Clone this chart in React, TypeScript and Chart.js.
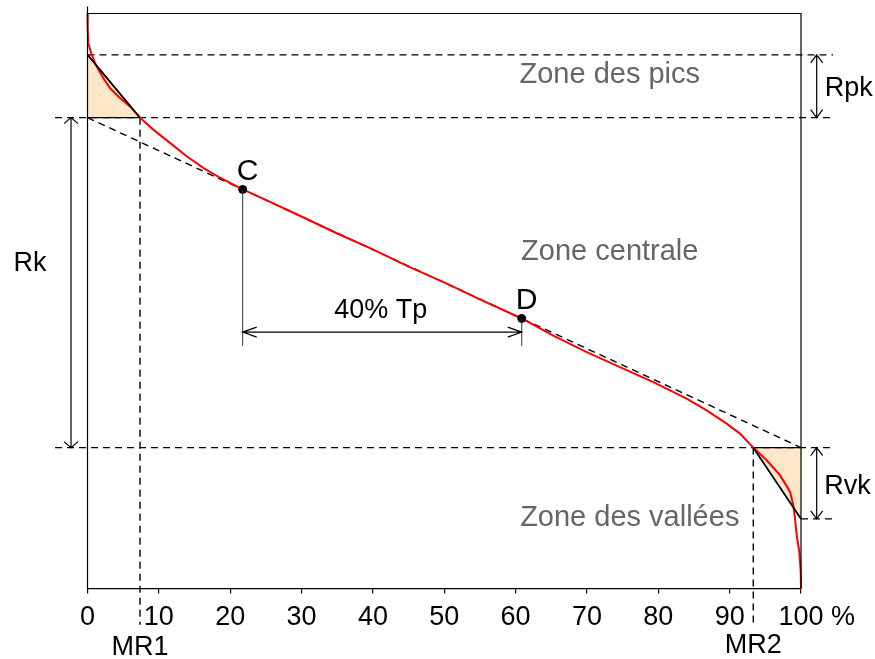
import React, { useEffect, useRef } from 'react';
import { Chart, registerables } from 'chart.js';

Chart.register(...registerables);

// ---- data ----
const xTickValues = [0, 10, 20, 30, 40, 50, 60, 70, 80, 90, 100];
const curveX = [0, 0.03, 0.11, 0.59, 1.29, 2.21, 3.15, 4.32, 5.96, 7.36, 9.22, 11.56, 13.9, 16.23, 18.57, 21.75, 25, 30, 35, 40, 45, 50, 55, 60.86, 65.28, 69.97, 74.63, 79.3, 83.98, 86.78, 89.59, 91.45, 93.31, 95.19, 97.06, 98.46, 98.92, 99.16, 99.4, 99.76, 99.96, 100];
const curveY = [100, 97.5, 94.84, 92.81, 90.78, 88.77, 87.04, 85.58, 83.85, 81.89, 79.81, 77.5, 75.18, 73.17, 71.44, 69.41, 67.6, 64.7, 61.75, 59.0, 56.0, 53.25, 50.3, 46.97, 43.99, 41.11, 38.51, 35.91, 33.02, 30.99, 28.68, 26.95, 24.52, 22.32, 19.72, 16.85, 14.52, 12.22, 9.32, 6.45, 2.98, 0];
const RPK_TOP = 92.81;
const CORE_TOP = 81.89;
const CORE_BOT = 24.52;
const RVK_BOT = 12.13;
const MR1 = 7.36;
const MR2 = 93.31;
const C_X = 21.75;
const D_X = 60.86;
const pointNames = ['C', 'D'];

const FONT = '"Liberation Sans", Arial, Helvetica, sans-serif';
const coreY = (x: number) => CORE_TOP + (CORE_BOT - CORE_TOP) * (x / 100);

function arrow(ctx: CanvasRenderingContext2D, x1: number, y1: number, x2: number, y2: number, len: number, half: number) {
  ctx.beginPath();
  ctx.moveTo(x1, y1);
  ctx.lineTo(x2, y2);
  const ang = Math.atan2(y2 - y1, x2 - x1);
  const tips: [number, number, number][] = [[x2, y2, ang], [x1, y1, ang + Math.PI]];
  for (const [tx, ty, a] of tips) {
    const ux = Math.cos(a), uy = Math.sin(a);
    ctx.moveTo(tx - ux * len - uy * half, ty - uy * len + ux * half);
    ctx.lineTo(tx, ty);
    ctx.lineTo(tx - ux * len + uy * half, ty - uy * len - ux * half);
  }
  ctx.stroke();
}

const annotPlugin = {
  id: 'annot',
  afterDatasetsDraw(chart: any) {
    const { ctx, chartArea: a, scales } = chart;
    const px = (v: number) => scales.x.getPixelForValue(v);
    const py = (v: number) => scales.y.getPixelForValue(v);
    ctx.save();
    // frame
    ctx.strokeStyle = '#000';
    ctx.lineWidth = 1.2;
    ctx.beginPath();
    ctx.moveTo(a.left, a.top - 7);
    ctx.lineTo(a.left, a.bottom);
    ctx.moveTo(a.left, a.top);
    ctx.lineTo(a.right, a.top);
    ctx.lineTo(a.right, a.bottom);
    ctx.stroke();

    // verticals from C and D
    ctx.strokeStyle = '#333';
    ctx.lineWidth = 1;
    ctx.beginPath();
    ctx.moveTo(px(C_X), py(coreY(C_X)));
    ctx.lineTo(px(C_X), py(42.2));
    ctx.moveTo(px(D_X), py(coreY(D_X)));
    ctx.lineTo(px(D_X), py(42.2));
    ctx.stroke();

    // arrows
    ctx.strokeStyle = '#000';
    ctx.lineWidth = 1.2;
    arrow(ctx, px(-2.31), py(CORE_TOP), px(-2.31), py(CORE_BOT), 6, 7);
    arrow(ctx, px(102.2), py(RPK_TOP), px(102.2), py(CORE_TOP), 8, 6);
    arrow(ctx, px(102.2), py(CORE_BOT), px(102.2), py(RVK_BOT), 8, 6);
    arrow(ctx, px(C_X), py(44.6), px(D_X), py(44.6), 14, 5);

    // texts
    ctx.textAlign = 'center';
    ctx.textBaseline = 'alphabetic';
    ctx.fillStyle = '#666';
    ctx.font = `29px ${FONT}`;
    ctx.fillText('Zone des pics', px(73.2), py(87.9));
    ctx.fillText('Zone centrale', px(73.2), py(57.1));
    ctx.fillText('Zone des vallées', px(76.0), py(10.83));

    ctx.fillStyle = '#000';
    ctx.font = `27px ${FONT}`;
    ctx.fillText('Rpk', px(106.7), py(85.6));
    ctx.fillText('Rvk', px(106.5), py(16.4));
    ctx.fillText('Rk', px(-8.06), py(55.25));
    ctx.fillText('40% Tp', px(41.1), py(47.1));
    ctx.fillText('MR1', px(MR1), py(-11.5));
    ctx.fillText('MR2', px(MR2), py(-11.2));
    ctx.textAlign = 'left';
    ctx.fillText('%', px(100) + 30, a.bottom + 36);

    ctx.font = `30px ${FONT}`;
    ctx.textAlign = 'center';
    ctx.fillText(pointNames[0], px(22.45), py(71.1));
    ctx.fillText(pointNames[1], px(61.55), py(48.6));
    ctx.restore();
  },
};

const dashed = [7, 5];

export default function App() {
  const ref = useRef<HTMLCanvasElement>(null);
  useEffect(() => {
    if (!ref.current) return;
    const curve = curveX.map((x, i) => ({ x, y: curveY[i] }));
    const line = (pts: number[][], extra: any) => ({
      data: pts.map(([x, y]) => ({ x, y })),
      borderColor: '#000',
      borderWidth: 1.4,
      pointRadius: 0,
      fill: false,
      clip: false,
      ...extra,
    });
    const chart = new Chart(ref.current, {
      type: 'line',
      data: {
        datasets: [
          // fills
          line([[0, RPK_TOP], [MR1, CORE_TOP]], { fill: { value: CORE_TOP }, backgroundColor: 'rgb(254,230,200)', borderWidth: 1.5, order: 5 }),
          line([[MR2, CORE_BOT], [100, RVK_BOT]], { fill: { value: CORE_BOT }, backgroundColor: 'rgb(254,230,200)', borderWidth: 1.5, order: 5 }),
          // dashed guides
          line([[0, RPK_TOP], [104.5, RPK_TOP]], { borderDash: dashed, order: 4 }),
          line([[-4.55, CORE_TOP], [104.5, CORE_TOP]], { borderDash: dashed, order: 4 }),
          line([[-4.55, CORE_BOT], [104.5, CORE_BOT]], { borderDash: dashed, order: 4 }),
          line([[100, RVK_BOT], [104.5, RVK_BOT]], { borderDash: dashed, order: 4 }),
          line([[MR1, CORE_TOP], [MR1, -6.3]], { borderDash: dashed, order: 4 }),
          line([[MR2, CORE_BOT], [MR2, -6.3]], { borderDash: dashed, order: 4 }),
          line([[0, CORE_TOP], [100, CORE_BOT]], { borderDash: dashed, order: 3 }),
          // solid triangle edges
          line([[0, CORE_TOP], [MR1, CORE_TOP]], { order: 3 }),
          line([[MR2, CORE_BOT], [100, CORE_BOT]], { order: 3 }),
          // red curve
          { data: curve, borderColor: '#ff0000', borderWidth: 2, pointRadius: 0, fill: false, order: 2, clip: false },
          // triangle hypotenuses on top
          line([[0, RPK_TOP], [MR1, CORE_TOP]], { borderWidth: 1.5, order: 1 }),
          line([[MR2, CORE_BOT], [100, RVK_BOT]], { borderWidth: 1.5, order: 1 }),
          // C and D points
          {
            data: [{ x: C_X, y: coreY(C_X) }, { x: D_X, y: coreY(D_X) }],
            showLine: false,
            pointRadius: 4,
            pointBackgroundColor: '#000',
            pointBorderColor: '#000',
            order: 0,
          },
        ],
      },
      options: {
        responsive: false,
        animation: false,
        devicePixelRatio: 1,
        layout: { padding: { left: 87.5, right: 74, top: 13.5, bottom: 17 } },
        plugins: { legend: { display: false }, tooltip: { enabled: false } },
        scales: {
          x: {
            type: 'linear',
            min: 0,
            max: 100,
            afterBuildTicks: (s: any) => { s.ticks = xTickValues.map((v) => ({ value: v })); },
            ticks: { color: '#000', font: { family: FONT, size: 27 }, padding: 8, maxRotation: 0, autoSkip: false },
            grid: { drawOnChartArea: false, tickLength: 5, color: '#000', lineWidth: 1.2 },
            border: { display: true, color: '#000', width: 1.2 },
          },
          y: { type: 'linear', min: 0, max: 100, display: false },
        },
      },
      plugins: [annotPlugin],
    });
    return () => chart.destroy();
  }, []);
  return (
    <div style={{ position: 'fixed', left: 0, top: 0, width: 875, height: 659, background: '#fff' }}>
      <canvas ref={ref} width={875} height={659} />
    </div>
  );
}
